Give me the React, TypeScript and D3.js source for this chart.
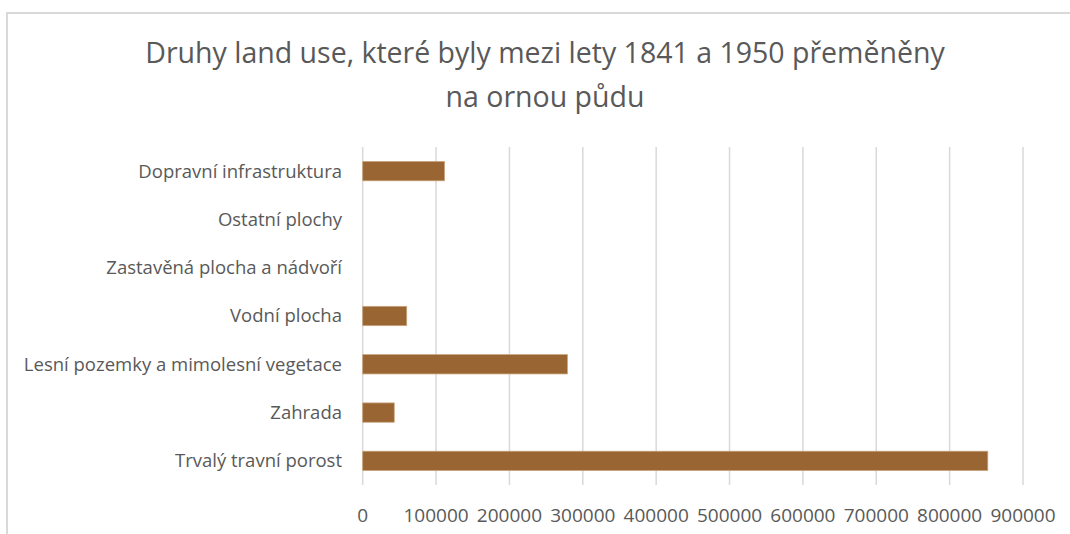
import React from "react";
import * as d3 from "d3";

const categories = [
  "Dopravní infrastruktura",
  "Ostatní plochy",
  "Zastavěná plocha a nádvoří ",
  "Vodní plocha",
  "Lesní pozemky a mimolesní vegetace",
  "Zahrada",
  "Trvalý travní porost",
];
const values = [111500, 0, 0, 60000, 279000, 43000, 852000];
const xTicks = [0, 100000, 200000, 300000, 400000, 500000, 600000, 700000, 800000, 900000];
const titleLines = [
  "Druhy land use, které byly mezi lety 1841 a 1950 přeměněny",
  "na ornou půdu",
];

const W = 1070;
const H = 534;

export default function App() {
  const x = d3.scaleLinear().domain([0, 900000]).range([362.7, 1023]);
  const y = d3.scaleBand<string>().domain(categories).range([147, 485]).paddingInner(0.6).paddingOuter(0.3);
  const font = "'Open Sans', sans-serif";
  return (
    <svg width={W} height={H} style={{ position: "absolute", left: 0, top: 0 }}>
      <rect x={0} y={0} width={W} height={H} fill="#fff" />
      <path d={`M7,${H} L7,13 L${W},13`} fill="none" stroke="#d9d9d9" strokeWidth={2} />
      {titleLines.map((t, i) => (
        <text key={i} x={545} y={63 + i * 44} textAnchor="middle" fontFamily={font} fontSize={28.5} fill="#595959">
          {t}
        </text>
      ))}
      {xTicks.map((t) => (
        <line key={t} x1={x(t)} x2={x(t)} y1={147} y2={485} stroke="#d9d9d9" strokeWidth={1.5} />
      ))}
      {categories.map((c, i) => (
        <rect
          key={c}
          x={x(0)}
          y={y(c)}
          width={x(values[i]) - x(0)}
          height={y.bandwidth()}
          fill="#996633"
          stroke={values[i] > 0 ? "#c9a27a" : "none"}
          strokeWidth={0.75}
        />
      ))}
      {categories.map((c) => (
        <text key={c} x={342} y={(y(c) as number) + y.bandwidth() / 2} dy="0.35em" textAnchor="end" fontFamily={font} fontSize={18.5} fill="#595959">
          {c}
        </text>
      ))}
      {xTicks.map((t) => (
        <text key={t} x={x(t)} y={522} textAnchor="middle" fontFamily={font} fontSize={19} fill="#595959">
          {t}
        </text>
      ))}
    </svg>
  );
}
